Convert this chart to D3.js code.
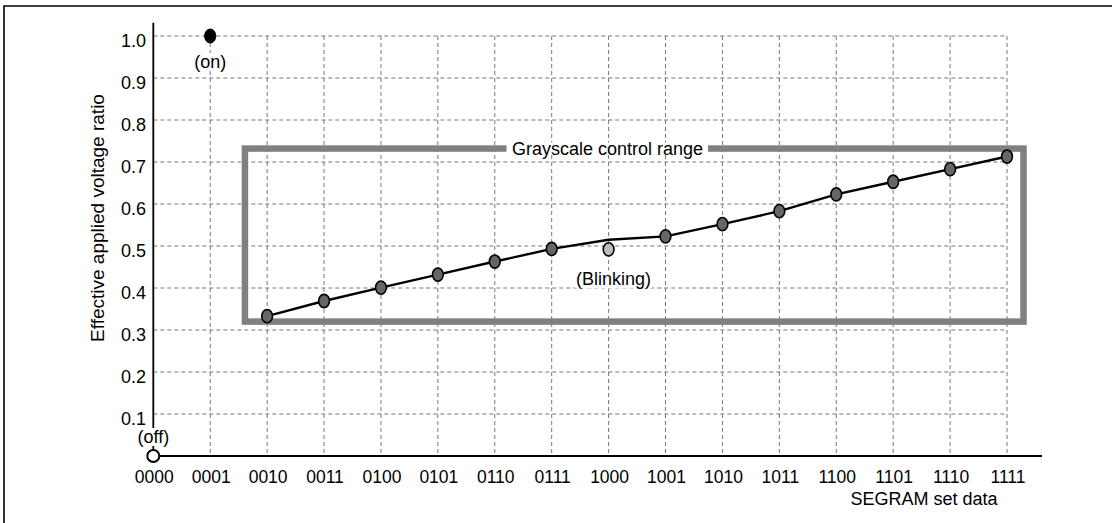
<!DOCTYPE html>
<html><head><meta charset="utf-8">
<script src="https://cdn.jsdelivr.net/npm/d3@7"></script>
<style>
html,body{margin:0;padding:0;background:#fff;}
svg{display:block;font-family:"Liberation Sans",Arial,sans-serif;}
</style></head>
<body><svg id="c" width="1112" height="523"></svg>
<script>
const categories = ["0000","0001","0010","0011","0100","0101","0110","0111","1000","1001","1010","1011","1100","1101","1110","1111"];
// marker values (grayscale points)
const grayCats = ["0010","0011","0100","0101","0110","0111","1001","1010","1011","1100","1101","1110","1111"];
const grayValues = [0.333,0.369,0.401,0.432,0.463,0.493,0.523,0.552,0.583,0.623,0.653,0.683,0.713];
// line path (includes a bend at 1000)
const lineCats = ["0010","0011","0100","0101","0110","0111","1000","1001","1010","1011","1100","1101","1110","1111"];
const lineValues = [0.333,0.369,0.401,0.432,0.463,0.493,0.515,0.523,0.552,0.583,0.623,0.653,0.683,0.713];
const blinkCat = "1000", blinkValue = 0.492;
const onCat = "0001", onValue = 1.0;
const offCat = "0000", offValue = 0.0;
const yTicks = [0.1,0.2,0.3,0.4,0.5,0.6,0.7,0.8,0.9,1.0];
const rangeBox = {x0:1.61, x1:15.29, y0:0.32, y1:0.732}; // in category-index / value units

const svg = d3.select("#c");
const FS = 18;
const x = d3.scalePoint().domain(categories).range([153.3, 1007]);
const xi = d3.scaleLinear().domain([0, categories.length-1]).range([153.3, 1007]);
const y = d3.scaleLinear().domain([0,1]).range([456, 36]);

// outer frame (top + left)
svg.append("path").attr("d","M4,523 V6 H1112").attr("fill","none").attr("stroke","#000").attr("stroke-width",1.6);

// grid
const g = svg.append("g");
g.selectAll(".hg").data(yTicks).join("line")
  .attr("x1",153.3).attr("x2",x("1111")).attr("y1",d=>y(d)).attr("y2",d=>y(d))
  .attr("stroke","#777").attr("stroke-width",1).attr("stroke-dasharray","4,3");
g.selectAll(".vg").data(categories.slice(1)).join("line")
  .attr("x1",d=>x(d)).attr("x2",d=>x(d)).attr("y1",y(1.0)).attr("y2",y(0))
  .attr("stroke","#777").attr("stroke-width",1).attr("stroke-dasharray","4,3");

// axes
svg.append("line").attr("x1",153.3).attr("x2",153.3).attr("y1",22.7).attr("y2",y(0)).attr("stroke","#000").attr("stroke-width",1.8);
svg.append("line").attr("x1",152.4).attr("x2",1042).attr("y1",y(0)).attr("y2",y(0)).attr("stroke","#000").attr("stroke-width",1.8);

// y tick labels
svg.selectAll(".yl").data(yTicks).join("text")
  .attr("x",146).attr("y",d=>y(d)+10.5).attr("text-anchor","end")
  .attr("font-size",FS).attr("fill","#000").text(d=>d.toFixed(1));
// x tick labels
svg.selectAll(".xl").data(categories).join("text")
  .attr("x",d=>x(d)+1).attr("y",483).attr("text-anchor","middle")
  .attr("font-size",17.5).attr("fill","#000").text(d=>d);

// axis titles
svg.append("text").attr("transform","translate(104,218) rotate(-90)")
  .attr("text-anchor","middle").attr("font-size",19).text("Effective applied voltage ratio");
svg.append("text").attr("x",924).attr("y",505).attr("text-anchor","middle")
  .attr("font-size",FS).text("SEGRAM set data");

// grayscale control range box
svg.append("rect").attr("x",xi(rangeBox.x0)).attr("y",y(rangeBox.y1))
  .attr("width",xi(rangeBox.x1)-xi(rangeBox.x0)).attr("height",y(rangeBox.y0)-y(rangeBox.y1))
  .attr("fill","none").attr("stroke","#808080").attr("stroke-width",6.5);
const lblX = 607.5;
svg.append("rect").attr("x",506.5).attr("y",y(rangeBox.y1)-6).attr("width",201.5).attr("height",12).attr("fill","#fff");
svg.append("text").attr("x",lblX).attr("y",y(rangeBox.y1)+6.5).attr("text-anchor","middle")
  .attr("font-size",FS).text("Grayscale control range");

// line
svg.append("path").datum(lineCats.map((c,i)=>[x(c),y(lineValues[i])]))
  .attr("d",d3.line()).attr("fill","none").attr("stroke","#000").attr("stroke-width",2.4);

// annotations with white backgrounds
function label(tx, ty, txt){
  const t = svg.append("text").attr("x",tx).attr("y",ty).attr("text-anchor","middle").attr("font-size",FS).text(txt);
  const b = t.node().getBBox();
  svg.insert("rect", () => t.node()).attr("x",b.x-1).attr("y",b.y+1).attr("width",b.width+2).attr("height",b.height-2).attr("fill","#fff");
}
label(x(onCat), y(onValue)+32, "(on)");
label(x(offCat), y(offValue)-13, "(off)");
label(x(blinkCat)+5, y(blinkValue)+36, "(Blinking)");

// markers
svg.selectAll(".gm").data(grayCats.map((c,i)=>({c,v:grayValues[i]}))).join("ellipse")
  .attr("cx",d=>x(d.c)).attr("cy",d=>y(d.v)).attr("rx",5.4).attr("ry",6.6)
  .attr("fill","#666").attr("stroke","#000").attr("stroke-width",1.6);
svg.append("ellipse").attr("cx",x(blinkCat)).attr("cy",y(blinkValue)).attr("rx",5.4).attr("ry",6.6)
  .attr("fill","#bbb").attr("stroke","#000").attr("stroke-width",1.6);
svg.append("ellipse").attr("cx",x(onCat)).attr("cy",y(onValue)).attr("rx",5.6).attr("ry",7)
  .attr("fill","#000").attr("stroke","#000").attr("stroke-width",1);
svg.append("ellipse").attr("cx",x(offCat)).attr("cy",y(offValue)).attr("rx",6).attr("ry",6)
  .attr("fill","#fff").attr("stroke","#000").attr("stroke-width",2);
</script></body></html>
